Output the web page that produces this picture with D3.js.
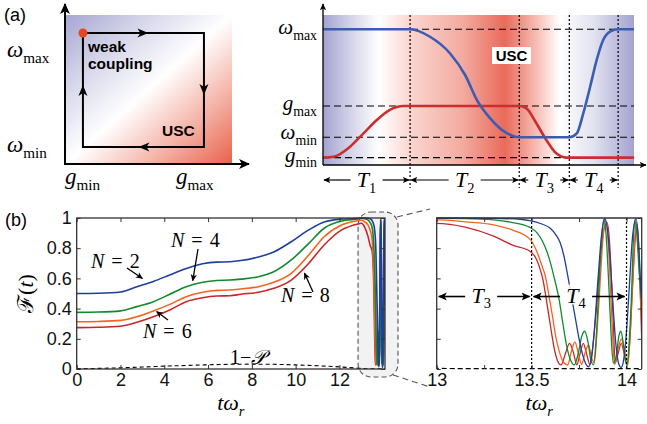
<!DOCTYPE html>
<html><head><meta charset="utf-8">
<script src="https://cdn.jsdelivr.net/npm/d3@7"></script>
<style>body{margin:0;background:#fff}svg{display:block}</style>
</head><body>
<svg id="c" width="647" height="424"></svg>
<script>
// ================= DATA =================
// (a) right: schematic protocol (time in schematic units, values normalised)
const protoBounds = [0, 2.8, 6.31, 7.92, 9.49];
const protoEnd = 10;
const segLabels = ["1", "2", "3", "4"];
const levelNames = [["ω", "max"], ["g", "max"], ["ω", "min"], ["g", "min"]];
const levelValues = [0.905, 0.393, 0.185, 0.049];
const omegaCurve = [[0,0.905],[2.8,0.905],[3.44,0.855],[4.08,0.745],[4.57,0.60],[4.95,0.433],[5.37,0.313],[5.85,0.22],[6.31,0.185],[7.92,0.185],[8.16,0.211],[8.37,0.345],[8.59,0.522],[8.80,0.70],[9.01,0.833],[9.23,0.889],[9.49,0.905],[10,0.905]];
const gCurve = [[0,0.049],[0.34,0.055],[0.87,0.122],[1.30,0.211],[1.73,0.30],[2.15,0.367],[2.58,0.393],[2.8,0.393],[6.31,0.393],[6.54,0.378],[6.86,0.278],[7.18,0.167],[7.50,0.078],[7.83,0.049],[10,0.049]];
// (a) left: loop corners (normalised g, ω)
const loopG = [0.102, 0.831];
const loopW = [0.114, 0.879];

// (b) fidelity curves [t*omega_r, F]
const fidN2 = [[0,0.5],[1,0.502],[2,0.51],[2.75,0.545],[3.5,0.58],[4.25,0.623],[5,0.665],[5.75,0.697],[6.4,0.708],[7,0.71],[7.5,0.718],[8.3,0.742],[9,0.775],[9.8,0.843],[10.6,0.921],[11.3,0.974],[12.1,0.993],[12.9,0.998],
 [13.0,1.0],[13.3,0.998],[13.45,0.99],[13.491,0.982],[13.55,0.962],[13.6,0.93],[13.63,0.885],[13.65,0.838],[13.67,0.75],[13.69,0.62],[13.71,0.48],[13.73,0.34],[13.75,0.2],[13.77,0.09],[13.785,0.035],[13.8,0.015],[13.815,0.07],[13.83,0.25],[13.85,0.6],[13.868,0.88],[13.886,0.995],[13.9,0.92],[13.915,0.7],[13.93,0.4],[13.945,0.15],[13.96,0.03],[13.972,0.01],[13.985,0.06],[14.0,0.25],[14.015,0.55],[14.03,0.85],[14.05,0.995],[14.063,0.85],[14.073,0.6],[14.08,0.42]];
const fidN4 = [[0,0.375],[1,0.377],[2,0.385],[2.75,0.413],[3.5,0.446],[4.25,0.495],[5,0.545],[5.75,0.574],[6.4,0.586],[7,0.589],[7.5,0.595],[8.3,0.611],[9,0.644],[9.8,0.722],[10.6,0.832],[11.3,0.932],[12.1,0.98],[12.9,0.995],
 [13.0,0.998],[13.15,0.996],[13.3,0.988],[13.4,0.97],[13.491,0.938],[13.53,0.9],[13.56,0.84],[13.58,0.78],[13.6,0.7],[13.62,0.6],[13.645,0.46],[13.665,0.3],[13.685,0.15],[13.705,0.06],[13.725,0.027],[13.745,0.1],[13.765,0.22],[13.78,0.25],[13.797,0.18],[13.812,0.06],[13.826,0.027],[13.84,0.2],[13.855,0.55],[13.868,0.85],[13.88,0.99],[13.893,0.88],[13.905,0.6],[13.918,0.25],[13.93,0.04],[13.945,0.08],[13.96,0.22],[13.97,0.25],[13.982,0.18],[13.995,0.05],[14.003,0.027],[14.015,0.2],[14.028,0.55],[14.036,0.85],[14.044,0.985],[14.055,0.88],[14.068,0.62],[14.08,0.45]];
const fidN6 = [[0,0.313],[1,0.315],[2,0.322],[2.75,0.346],[3.5,0.384],[4.25,0.428],[5,0.479],[5.75,0.508],[6.4,0.521],[7,0.523],[7.5,0.53],[8.3,0.545],[9,0.574],[9.8,0.634],[10.6,0.755],[11.3,0.876],[12.1,0.954],[12.9,0.984],
 [13.0,0.987],[13.15,0.975],[13.3,0.955],[13.4,0.92],[13.491,0.86],[13.52,0.8],[13.55,0.7],[13.575,0.6],[13.592,0.48],[13.61,0.35],[13.625,0.23],[13.645,0.12],[13.665,0.05],[13.69,0.027],[13.71,0.12],[13.728,0.18],[13.745,0.11],[13.763,0.03],[13.78,0.1],[13.8,0.16],[13.815,0.08],[13.83,0.04],[13.845,0.25],[13.86,0.55],[13.875,0.85],[13.891,0.98],[13.903,0.85],[13.915,0.55],[13.927,0.22],[13.937,0.03],[13.955,0.13],[13.973,0.2],[13.99,0.12],[14.008,0.03],[14.022,0.3],[14.035,0.65],[14.052,0.97],[14.063,0.8],[14.073,0.5],[14.08,0.3]];
const fidN8 = [[0,0.274],[1,0.276],[2,0.283],[2.75,0.309],[3.5,0.346],[4.25,0.391],[5,0.446],[5.75,0.472],[6.4,0.483],[7,0.485],[7.5,0.495],[8.3,0.508],[9,0.534],[9.8,0.589],[10.6,0.70],[11.3,0.821],[12.1,0.921],[12.9,0.962],
 [13.0,0.965],[13.15,0.94],[13.3,0.88],[13.4,0.82],[13.491,0.78],[13.52,0.74],[13.54,0.68],[13.56,0.59],[13.575,0.48],[13.59,0.36],[13.605,0.24],[13.62,0.13],[13.635,0.06],[13.655,0.027],[13.68,0.11],[13.7,0.17],[13.72,0.11],[13.738,0.027],[13.755,0.1],[13.772,0.17],[13.79,0.1],[13.807,0.03],[13.82,0.12],[13.84,0.38],[13.86,0.7],[13.88,0.92],[13.898,0.97],[13.91,0.85],[13.922,0.55],[13.932,0.25],[13.94,0.04],[13.955,0.1],[13.972,0.17],[13.988,0.1],[14.003,0.03],[14.018,0.2],[14.032,0.55],[14.045,0.85],[14.056,0.96],[14.066,0.75],[14.074,0.45],[14.08,0.2]];
const lossCurve = [[0,0.003],[1,0.004],[2,0.008],[3,0.013],[4.25,0.02],[5.8,0.027],[7,0.031],[8,0.032],[9,0.031],[10,0.027],[10.6,0.024],[11.5,0.018],[12,0.014],[12.9,0.005],[13.3,0.002],[14.08,0.002]];
const seriesLabels = ["2", "4", "6", "8"];
const fidTicksX = [0, 2, 4, 6, 8, 10, 12];
const fidTicksY = [0, 0.2, 0.4, 0.6, 0.8, 1];
const zoomTicksX = [13, 13.25, 13.5, 13.75, 14];
const zoomLabelsX = [13, 13.5, 14];
const zoomBounds = [13, 13.5, 14];

// ================= STYLE =================
const serif = "'Liberation Serif','DejaVu Serif',serif";
const sans = "'Liberation Sans',Arial,sans-serif";
const colors = ["#1f3f9c", "#128a2c", "#f5641e", "#c9252b"];

const svg = d3.select("#c");
const defs = svg.append("defs");

function marker(id, size) {
  defs.append("marker").attr("id", id).attr("viewBox", "0 0 10 10")
    .attr("refX", 9).attr("refY", 5).attr("markerWidth", size).attr("markerHeight", size)
    .attr("markerUnits", "userSpaceOnUse").attr("orient", "auto-start-reverse")
    .append("path").attr("d", "M0,0.5 L10,5 L0,9.5 L2.5,5 Z").attr("fill", "#000");
}
marker("ah", 9); marker("ahs", 7); marker("ahb", 11);

function math(g, x, y, parts, size, anchor) {
  const t = g.append("text").attr("x", x).attr("y", y).attr("text-anchor", anchor || "start")
    .style("font-family", serif).style("font-size", size + "px");
  let shift = 0;
  parts.forEach(p => {
    const s = t.append("tspan").text(p.t);
    const target = p.sub ? size * 0.26 : 0;
    if (target !== shift) { s.attr("dy", target - shift); shift = target; }
    if (p.it) s.style("font-style", "italic");
    if (p.sub) s.style("font-size", (size * 0.66) + "px");
    if (p.dx) s.attr("dx", p.dx);
  });
  return t;
}

// ================= PANEL (a) LEFT =================
const gA = d3.scaleLinear([0, 1], [66, 232]);
const wA = d3.scaleLinear([0, 1], [164, 15]);
const diag = defs.append("linearGradient").attr("id", "diag").attr("x1", 0).attr("y1", 0).attr("x2", 1).attr("y2", 1);
[[0, "#a6a6d3"], [0.25, "#d6d6ea"], [0.5, "#ffffff"], [0.75, "#f4b3a7"], [1, "#e8624b"]]
  .forEach(([o, c]) => diag.append("stop").attr("offset", o).attr("stop-color", c));
const aL = svg.append("g");
aL.append("rect").attr("x", gA(0)).attr("y", wA(1)).attr("width", gA(1) - gA(0)).attr("height", wA(0) - wA(1)).attr("fill", "url(#diag)");
aL.append("line").attr("x1", gA(0) - 1).attr("y1", wA(0)).attr("x2", 249).attr("y2", wA(0))
  .attr("stroke", "#000").attr("stroke-width", 2).attr("marker-end", "url(#ahb)");
aL.append("line").attr("x1", gA(0) - 1).attr("y1", wA(0) + 1).attr("x2", gA(0) - 1).attr("y2", 4)
  .attr("stroke", "#000").attr("stroke-width", 2).attr("marker-end", "url(#ahb)");
const corners = [[loopG[0], loopW[1]], [loopG[1], loopW[1]], [loopG[1], loopW[0]], [loopG[0], loopW[0]]];
aL.append("path").attr("d", d3.line().x(d => gA(d[0])).y(d => wA(d[1]))(corners) + "Z")
  .attr("fill", "none").attr("stroke", "#000").attr("stroke-width", 2);
corners.forEach((c, i) => {
  const n = corners[(i + 1) % 4];
  const x1 = gA(c[0]), y1 = wA(c[1]), x2 = gA(n[0]), y2 = wA(n[1]);
  const mx = (x1 + x2) / 2, my = (y1 + y2) / 2;
  const ang = Math.atan2(y2 - y1, x2 - x1) * 180 / Math.PI;
  aL.append("path").attr("d", "M-6,-4.5 L5,0 L-6,4.5 L-3,0 Z").attr("fill", "#000")
    .attr("transform", `translate(${mx},${my}) rotate(${ang})`);
});
aL.append("circle").attr("cx", gA(loopG[0])).attr("cy", wA(loopW[1])).attr("r", 4.5).attr("fill", "#e8461e");
aL.append("text").attr("x", 88).attr("y", 52).style("font-family", sans).style("font-weight", "bold").style("font-size", "15.5px").text("weak");
aL.append("text").attr("x", 88).attr("y", 69).style("font-family", sans).style("font-weight", "bold").style("font-size", "15.5px").text("coupling");
aL.append("text").attr("x", 162).attr("y", 136).style("font-family", sans).style("font-weight", "bold").style("font-size", "15.5px").text("USC");
math(aL, 7, 57, [{t: "ω", it: true}, {t: "max", sub: true}], 23);
math(aL, 7, 152, [{t: "ω", it: true}, {t: "min", sub: true}], 23);
math(aL, 65, 184, [{t: "g", it: true}, {t: "min", sub: true}], 23);
math(aL, 176, 184, [{t: "g", it: true}, {t: "max", sub: true}], 23);
svg.append("text").attr("x", 4).attr("y", 21).style("font-family", sans).style("font-size", "18px").text("(a)");

// ================= PANEL (a) RIGHT =================
const xA = d3.scaleLinear([0, protoEnd], [323, 634]);
const yA = d3.scaleLinear([0, 1], [165, 15]);
const hg = defs.append("linearGradient").attr("id", "hg").attr("x1", 0).attr("y1", 0).attr("x2", 1).attr("y2", 0);
[[0, "#a3a3d1"], [0.09, "#d4d4ea"], [0.18, "#ffffff"], [0.28, "#fad6d1"], [0.45, "#f3aa9f"], [0.585, "#ea6a5b"],
 [0.63, "#ef8e82"], [0.70, "#f8c9c2"], [0.76, "#ffffff"], [0.87, "#e2e2f0"], [1, "#a3a3d1"]]
  .forEach(([o, c]) => hg.append("stop").attr("offset", o).attr("stop-color", c));
const aR = svg.append("g");
aR.append("rect").attr("x", xA(0)).attr("y", yA(1)).attr("width", xA(protoEnd) - xA(0)).attr("height", yA(0) - yA(1)).attr("fill", "url(#hg)");
const labelShift = [5, 4, 2, 4];
levelValues.forEach((v, i) => {
  aR.append("line").attr("x1", xA(0)).attr("x2", xA(protoEnd)).attr("y1", yA(v)).attr("y2", yA(v))
    .attr("stroke", "#000").attr("stroke-width", 1.1).attr("stroke-dasharray", "7,4");
  math(aR, 317, yA(v) + labelShift[i], [{t: levelNames[i][0], it: true}, {t: levelNames[i][1], sub: true}], 21, "end");
});
protoBounds.slice(1).forEach(b => {
  aR.append("line").attr("x1", xA(b)).attr("x2", xA(b)).attr("y1", yA(1)).attr("y2", 188)
    .attr("stroke", "#000").attr("stroke-width", 1.2).attr("stroke-dasharray", "2,2");
});
const lineA = d3.line().x(d => xA(d[0])).y(d => yA(d[1])).curve(d3.curveMonotoneX);
aR.append("path").attr("d", lineA(gCurve)).attr("fill", "none").attr("stroke", "#cc2e30").attr("stroke-width", 2.6);
aR.append("path").attr("d", lineA(omegaCurve)).attr("fill", "none").attr("stroke", "#3a5cb3").attr("stroke-width", 2.6);
aR.append("line").attr("x1", xA(0)).attr("y1", yA(0)).attr("x2", 646).attr("y2", yA(0))
  .attr("stroke", "#000").attr("stroke-width", 1.3).attr("marker-end", "url(#ahs)");
aR.append("line").attr("x1", xA(0)).attr("y1", yA(0)).attr("x2", xA(0)).attr("y2", 4)
  .attr("stroke", "#000").attr("stroke-width", 1.3).attr("marker-end", "url(#ahs)");
aR.append("rect").attr("x", 492).attr("y", 47).attr("width", 39).attr("height", 17).attr("fill", "#fff");
aR.append("text").attr("x", 511.5).attr("y", 61).attr("text-anchor", "middle").style("font-family", sans)
  .style("font-weight", "bold").style("font-size", "15px").text("USC");
for (let i = 0; i < 4; i++) {
  const a = xA(protoBounds[i]), b = xA(protoBounds[i + 1]), m = (a + b) / 2;
  aR.append("line").attr("x1", m - 16).attr("x2", a + 1).attr("y1", 180).attr("y2", 180)
    .attr("stroke", "#000").attr("stroke-width", 1.2).attr("marker-end", "url(#ahs)");
  aR.append("line").attr("x1", m + 16).attr("x2", b - 1).attr("y1", 180).attr("y2", 180)
    .attr("stroke", "#000").attr("stroke-width", 1.2).attr("marker-end", "url(#ahs)");
  math(aR, m, 187, [{t: "T", it: true}, {t: segLabels[i], sub: true}], 22, "middle");
}

// ================= PANEL (b) LEFT =================
const xL = d3.scaleLinear([0, 14.08], [76.7, 385]);
const yL = d3.scaleLinear([0, 1], [369, 218]);
const bL = svg.append("g");
defs.append("clipPath").attr("id", "clipL").append("rect").attr("x", xL(0)).attr("y", yL(1) - 2).attr("width", xL(14.08) - xL(0)).attr("height", yL(0) - yL(1) + 2);
// zoom highlight
bL.append("rect").attr("x", xL(12.85)).attr("y", yL(1) - 6).attr("width", xL(14.08) + 13 - xL(12.85)).attr("height", yL(0) + 8 - yL(1) + 6)
  .attr("rx", 13).attr("fill", "#f2f2f2").attr("stroke", "#555").attr("stroke-width", 1.1).attr("stroke-dasharray", "5,3");
const lineL = d3.line().x(d => xL(d[0])).y(d => yL(d[1])).curve(d3.curveMonotoneX);
const allSeries = [fidN2, fidN4, fidN6, fidN8];
const cl = bL.append("g").attr("clip-path", "url(#clipL)");
[3, 2, 1, 0].forEach(i => cl.append("path").attr("d", lineL(allSeries[i])).attr("fill", "none").attr("stroke", colors[i]).attr("stroke-width", 1.6));
cl.append("path").attr("d", lineL(lossCurve)).attr("fill", "none").attr("stroke", "#000").attr("stroke-width", 1.1).attr("stroke-dasharray", "4,3");
bL.append("rect").attr("x", xL(0)).attr("y", yL(1)).attr("width", xL(14.08) - xL(0)).attr("height", yL(0) - yL(1))
  .attr("fill", "none").attr("stroke", "#333").attr("stroke-width", 1.3);
function styleAxis(g) {
  g.select(".domain").remove();
  g.selectAll(".tick line").attr("stroke", "#333");
  g.selectAll("text").style("font-family", sans).style("font-size", "18px").attr("fill", "#111");
}
bL.append("g").attr("transform", `translate(0,${yL(0)})`)
  .call(d3.axisBottom(xL).tickValues(fidTicksX).tickSize(-4).tickPadding(4).tickFormat(d3.format("d"))).call(styleAxis);
bL.append("g").attr("transform", `translate(0,${yL(1)})`)
  .call(d3.axisTop(xL).tickValues(fidTicksX).tickSize(-4).tickFormat("")).call(styleAxis);
bL.append("g").attr("transform", `translate(${xL(0)},0)`)
  .call(d3.axisLeft(yL).tickValues(fidTicksY).tickSize(-4).tickPadding(5).tickFormat(d3.format("~g"))).call(styleAxis);
bL.append("g").attr("transform", `translate(${xL(14.08)},0)`)
  .call(d3.axisRight(yL).tickValues(fidTicksY).tickSize(-4).tickFormat("")).call(styleAxis);
// labels
function nLabel(x, y, n) {
  const t = bL.append("text").attr("x", x).attr("y", y).style("font-family", serif).style("font-size", "20px");
  t.append("tspan").style("font-style", "italic").text("N");
  t.append("tspan").attr("dx", 7).text("=");
  t.append("tspan").attr("dx", 7).text(n);
}
function arrow(x1, y1, x2, y2) {
  bL.append("line").attr("x1", x1).attr("y1", y1).attr("x2", x2).attr("y2", y2)
    .attr("stroke", "#000").attr("stroke-width", 1.3).attr("marker-end", "url(#ahs)");
}
nLabel(91, 268, seriesLabels[0]); arrow(127, 268, xL(3.0), yL(fidN2[4][1]) - 3);
nLabel(171, 247, seriesLabels[1]); arrow(198, 249, xL(5.3), yL(0.565) - 3);
nLabel(143, 338, seriesLabels[2]); arrow(168, 320, xL(3.65), yL(0.40) + 3);
nLabel(281, 302, seriesLabels[3]); arrow(313, 292, xL(10.4), yL(0.655) + 3);
const lp = bL.append("text").attr("x", 230).attr("y", 364).style("font-family", serif).style("font-size", "20px");
lp.append("tspan").text("1−");
lp.append("tspan").style("font-style", "italic").text("𝒫");
const fl = bL.append("text").attr("transform", `translate(33,${(yL(0) + yL(1)) / 2}) rotate(-90)`).attr("text-anchor", "middle")
  .style("font-family", serif).style("font-size", "22px");
fl.append("tspan").text("ℱ");
fl.append("tspan").text("(");
fl.append("tspan").style("font-style", "italic").text("t");
fl.append("tspan").text(")");
math(bL, (xL(0) + xL(14.08)) / 2, 410, [{t: "tω", it: true}, {t: "r", sub: true, it: true}], 22, "middle");
svg.append("text").attr("x", 5).attr("y", 226).style("font-family", sans).style("font-size", "18px").text("(b)");

// ================= PANEL (b) RIGHT =================
const xR = d3.scaleLinear([13, 14.08], [436.7, 641.7]);
const yR = d3.scaleLinear([0, 1], [369, 218]);
const bR = svg.append("g");
// connectors
bR.append("line").attr("x1", xL(14.08) + 12).attr("y1", yL(1) - 1).attr("x2", 430).attr("y2", 209)
  .attr("stroke", "#555").attr("stroke-width", 1.1).attr("stroke-dasharray", "6,4");
bR.append("line").attr("x1", xL(14.08) + 8).attr("y1", yL(0) + 6).attr("x2", 430).attr("y2", 387)
  .attr("stroke", "#555").attr("stroke-width", 1.1).attr("stroke-dasharray", "6,4");
defs.append("clipPath").attr("id", "clipR").append("rect").attr("x", xR(13)).attr("y", yR(1) - 2).attr("width", xR(14.08) - xR(13)).attr("height", yR(0) - yR(1) + 3);
const lineR = d3.line().x(d => xR(d[0])).y(d => yR(d[1])).curve(d3.curveMonotoneX);
const cr = bR.append("g").attr("clip-path", "url(#clipR)");
[3, 2, 1, 0].forEach(i => cr.append("path").attr("d", lineR(allSeries[i].filter(d => d[0] >= 12.9))).attr("fill", "none").attr("stroke", colors[i]).attr("stroke-width", 1.3));
cr.append("path").attr("d", lineR(lossCurve.filter(d => d[0] >= 12.9))).attr("fill", "none").attr("stroke", "#000").attr("stroke-width", 1.2).attr("stroke-dasharray", "5,3");
zoomBounds.slice(1).forEach(b => {
  bR.append("line").attr("x1", xR(b)).attr("x2", xR(b)).attr("y1", yR(1)).attr("y2", yR(0))
    .attr("stroke", "#000").attr("stroke-width", 1.2).attr("stroke-dasharray", "2,2");
});
for (let i = 0; i < 2; i++) {
  const a = xR(zoomBounds[i]), b = xR(zoomBounds[i + 1]), m = (a + b) / 2 - 3, y = yR(0.48);
  bR.append("line").attr("x1", m - 16).attr("x2", a + 2).attr("y1", y).attr("y2", y)
    .attr("stroke", "#000").attr("stroke-width", 1.6).attr("marker-end", "url(#ah)");
  bR.append("line").attr("x1", m + 16).attr("x2", b - 2).attr("y1", y).attr("y2", y)
    .attr("stroke", "#000").attr("stroke-width", 1.6).attr("marker-end", "url(#ah)");
  bR.append("rect").attr("x", m - 12).attr("y", y - 12).attr("width", 24).attr("height", 20).attr("fill", "#fff").attr("opacity", 0.85);
  math(bR, m, y + 6, [{t: "T", it: true}, {t: String(i + 3), sub: true}], 22, "middle");
}
bR.append("path").attr("d", `M${xR(13)},${yR(0)}V${yR(1)}H${xR(14.08)}V${yR(0)}`).attr("fill", "none").attr("stroke", "#333").attr("stroke-width", 1.3);
bR.append("g").attr("transform", `translate(0,${yR(0)})`)
  .call(d3.axisBottom(xR).tickValues(zoomTicksX).tickSize(-4).tickPadding(4).tickFormat(d => zoomLabelsX.includes(d) ? d3.format("~g")(d) : "")).call(styleAxis);
bR.append("g").attr("transform", `translate(0,${yR(1)})`)
  .call(d3.axisTop(xR).tickValues(zoomTicksX).tickSize(-4).tickFormat("")).call(styleAxis);
bR.append("g").attr("transform", `translate(${xR(13)},0)`)
  .call(d3.axisLeft(yR).tickValues(fidTicksY).tickSize(-4).tickFormat("")).call(styleAxis);
bR.append("g").attr("transform", `translate(${xR(14.08)},0)`)
  .call(d3.axisRight(yR).tickValues(fidTicksY).tickSize(-4).tickFormat("")).call(styleAxis);
math(bR, (xR(13) + xR(14.08)) / 2, 410, [{t: "tω", it: true}, {t: "r", sub: true, it: true}], 22, "middle");
</script>
</body></html>
